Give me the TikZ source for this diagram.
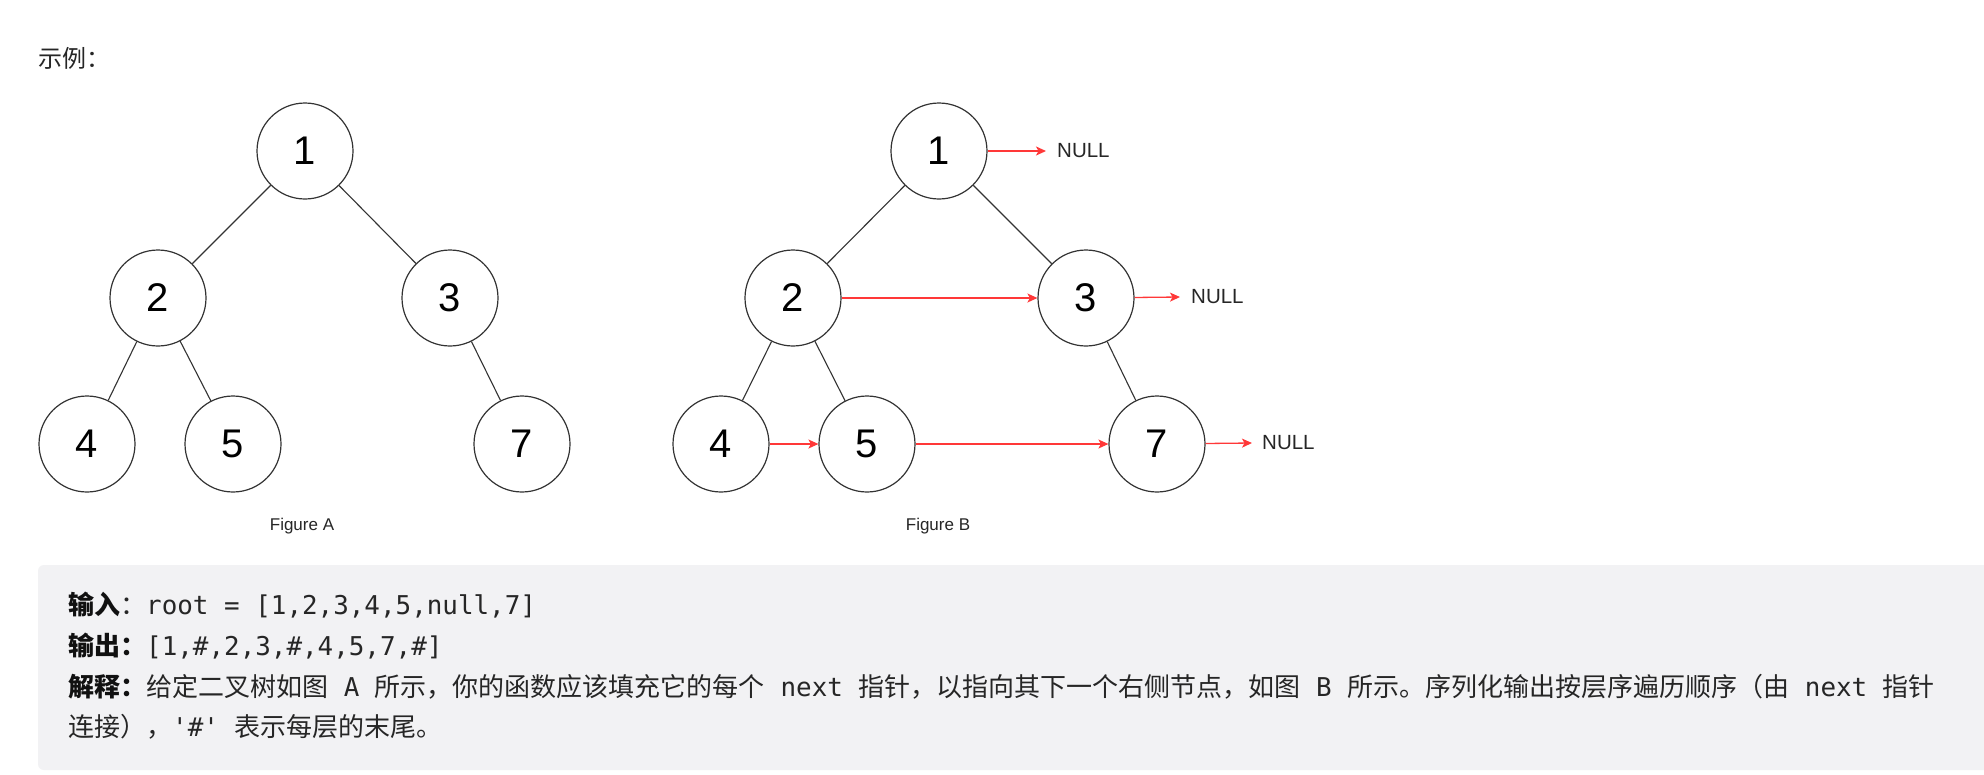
\documentclass[tikz,border=0pt]{standalone}
\usepackage{fontspec}
\setmainfont{Liberation Sans}
\newfontfamily\cjk{Noto Sans CJK SC}
\newfontfamily\mono{DejaVu Sans Mono}[Ligatures=TeXOff]
\usetikzlibrary{arrows.meta}
\definecolor{boxbg}{HTML}{F2F2F4}
\definecolor{txt}{HTML}{262626}
\definecolor{lbl}{HTML}{111111}
\definecolor{nxt}{HTML}{FF3838}
\definecolor{edgec}{HTML}{333333}
\newcommand\mt[1]{{\mono\fontsize{25.9}{26}\selectfont #1}}
\newcommand\ct[1]{{\cjk\fontsize{26}{26}\selectfont #1}}
\newcommand\cb[1]{{\cjk\bfseries\fontsize{26}{26}\selectfont\color{lbl}#1}}
\begin{document}
\begin{tikzpicture}[x=1pt,y=-1pt,
  tn/.style={circle,draw=edgec,fill=white,line width=1.2pt,minimum size=96pt,inner sep=0pt,
    font=\fontsize{40}{40}\selectfont,text=black},
  br/.style={draw=edgec,line width=1.1pt},
  nx/.style={draw=nxt,line width=1.3pt,-{Stealth[length=10pt,width=9pt,inset=2.5pt]}},
  nul/.style={anchor=west,inner sep=0pt,font=\fontsize{20.5}{20.5}\selectfont,text=txt},
  figcap/.style={inner sep=0pt,font=\fontsize{17}{17}\selectfont,text=txt},
  ln/.style={anchor=base west,inner sep=0pt,text=txt}
]
\useasboundingbox (0,0) rectangle (1984,774);
\fill[white] (0,0) rectangle (1984,774);

% heading
\node[anchor=base west,inner sep=0pt,text=txt,font=\cjk\fontsize{24}{24}\selectfont] (hd) at (38,67) {示例：};

% Figure A
\node[tn] (a1) at (305,151) {1};
\node[tn] (a2) at (158,298) {2};
\node[tn] (a3) at (450,298) {3};
\node[tn] (a4) at (87,444) {4};
\node[tn] (a5) at (233,444) {5};
\node[tn] (a7) at (522,444) {7};
\draw[br] (a1) -- (a2);
\draw[br] (a1) -- (a3);
\draw[br] (a2) -- (a4);
\draw[br] (a2) -- (a5);
\draw[br] (a3) -- (a7);
\node[figcap] (capA) at (302,526) {Figure A};

% Figure B
\node[tn] (b1) at (939,151) {1};
\node[tn] (b2) at (793,298) {2};
\node[tn] (b3) at (1086,298) {3};
\node[tn] (b4) at (721,444) {4};
\node[tn] (b5) at (867,444) {5};
\node[tn] (b7) at (1157,444) {7};
\draw[br] (b1) -- (b2);
\draw[br] (b1) -- (b3);
\draw[br] (b2) -- (b4);
\draw[br] (b2) -- (b5);
\draw[br] (b3) -- (b7);
\node[nul] (n1) at (1057,151) {NULL};
\node[nul] (n2) at (1191,297) {NULL};
\node[nul] (n3) at (1262,443) {NULL};
\coordinate (t1) at (1046,151);
\coordinate (t2) at (1180,297);
\coordinate (t3) at (1252,443);
\draw[nx] (b1) -- (t1);
\draw[nx] (b3) -- (t2);
\draw[nx] (b7) -- (t3);
\draw[nx] (b2) -- (b3);
\draw[nx] (b4) -- (b5);
\draw[nx] (b5) -- (b7);
\node[figcap] (capB) at (938,526) {Figure B};

% example box
\fill[boxbg,rounded corners=6pt] (38,565) rectangle (2000,770);
\node[ln] (l1) at (68,614) {\cb{输入}\ct{：}\mt{root = [1,2,3,4,5,null,7]}};
\node[ln] (l2) at (68,655) {\cb{输出：}\mt{[1,\#,2,3,\#,4,5,7,\#]}};
\node[ln] (l3) at (68,696) {\cb{解释：}\ct{给定二叉树如图}\mt{\ A\ }\ct{所示，你的函数应该填充它的每个}\mt{\ next\ }\ct{指针，以指向其下一个右侧节点，如图}\mt{\ B\ }\ct{所示。序列化输出按层序遍历顺序（由}\mt{\ next\ }\ct{指针}};
\node[ln] (l4) at (68,736) {\ct{连接），}\mt{'\#'\ }\ct{表示每层的末尾。}};
\end{tikzpicture}
\end{document}
